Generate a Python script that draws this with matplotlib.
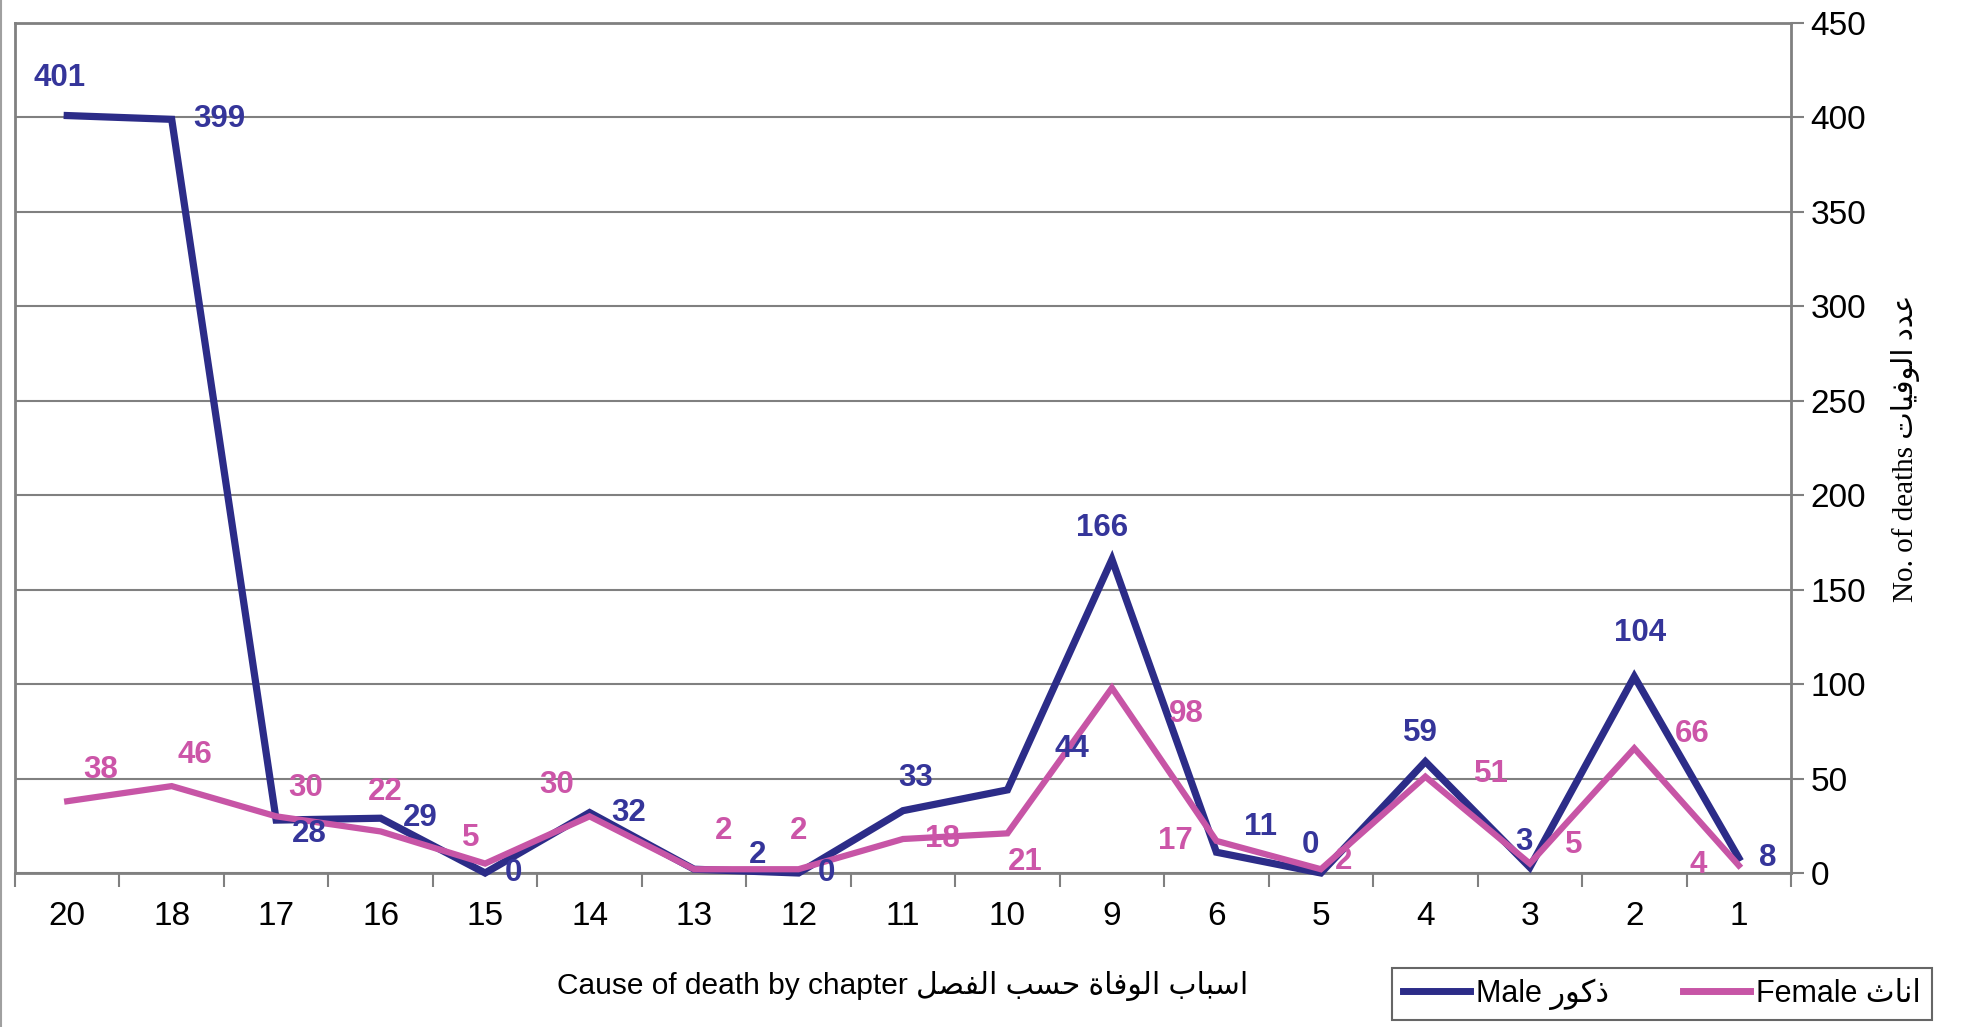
import matplotlib
matplotlib.use("Agg")
import matplotlib.pyplot as plt
from matplotlib.lines import Line2D

# formes contextuelles arabes : (isolée, finale, initiale, médiane)
FORMES = {
    'ا': ('\uFE8D', '\uFE8E', None, None),
    'ب': ('\uFE8F', '\uFE90', '\uFE91', '\uFE92'),
    'ة': ('\uFE93', '\uFE94', None, None),
    'ت': ('\uFE95', '\uFE96', '\uFE97', '\uFE98'),
    'ث': ('\uFE99', '\uFE9A', '\uFE9B', '\uFE9C'),
    'ح': ('\uFEA1', '\uFEA2', '\uFEA3', '\uFEA4'),
    'د': ('\uFEA9', '\uFEAA', None, None),
    'ذ': ('\uFEAB', '\uFEAC', None, None),
    'ر': ('\uFEAD', '\uFEAE', None, None),
    'س': ('\uFEB1', '\uFEB2', '\uFEB3', '\uFEB4'),
    'ص': ('\uFEB9', '\uFEBA', '\uFEBB', '\uFEBC'),
    'ع': ('\uFEC9', '\uFECA', '\uFECB', '\uFECC'),
    'ف': ('\uFED1', '\uFED2', '\uFED3', '\uFED4'),
    'ك': ('\uFED9', '\uFEDA', '\uFEDB', '\uFEDC'),
    'ل': ('\uFEDD', '\uFEDE', '\uFEDF', '\uFEE0'),
    'ن': ('\uFEE5', '\uFEE6', '\uFEE7', '\uFEE8'),
    'و': ('\uFEED', '\uFEEE', None, None),
    'ي': ('\uFEF1', '\uFEF2', '\uFEF3', '\uFEF4'),
}


def arabe(txt):
    """façonne le texte arabe et le remet dans l'ordre visuel"""
    out = []
    for i, c in enumerate(txt):
        if c not in FORMES:
            out.append(c)
            continue
        prev = txt[i-1] if i > 0 else ''
        nxt = txt[i+1] if i + 1 < len(txt) else ''
        lie_av = prev in FORMES and FORMES[prev][2] is not None
        lie_ap = FORMES[c][2] is not None and nxt in FORMES
        iso, fin, ini, med = FORMES[c]
        if lie_av and lie_ap:
            out.append(med)
        elif lie_av:
            out.append(fin)
        elif lie_ap:
            out.append(ini)
        else:
            out.append(iso)
    return ''.join(reversed(out))


chapitres = ['20', '18', '17', '16', '15', '14', '13', '12', '11', '10',
             '9', '6', '5', '4', '3', '2', '1']
hommes = [401, 399, 28, 29, 0, 32, 2, 0, 33, 44, 166, 11, 0, 59, 3, 104, 8]
femmes = [38, 46, 30, 22, 5, 30, 2, 2, 18, 21, 98, 17, 2, 51, 5, 66, 4]

# décalage des étiquettes (pixels)
decal_h = [(-8, 38), (48, 0), (33, -14), (40, 0), (28, 0), (39, 0), (64, 14),
           (28, 0), (13, 33), (64, 41), (-10, 31), (44, 25), (-10, 28),
           (-5, 29), (-6, 25), (6, 44), (29, 0)]
decal_f = [(33, 31), (23, 31), (29, 28), (5, 39), (-14, 26), (-33, 31),
           (30, 38), (0, 38), (39, 0), (18, -29), (74, -26), (-41, 0),
           (23, 8), (66, 3), (44, 19), (58, 14), (-41, 0)]

bleu = '#2C2C88'
rose = '#C755A6'
gris = '#808080'
police = ['Liberation Sans', 'DejaVu Sans']

fig = plt.figure(figsize=(19.64, 10.27), dpi=100)
ax = fig.add_axes([15/1964, 1 - 873/1027, (1791-15)/1964, (873-23)/1027])

x = list(range(len(chapitres)))
ax.plot(x, hommes, color=bleu, linewidth=5.2, solid_joinstyle='miter',
        clip_on=False, zorder=4, label='Male ' + arabe('ذكور'))
ax.plot(x, femmes, color=rose, linewidth=4.5, solid_joinstyle='miter',
        clip_on=False, zorder=5, label='Female ' + arabe('اناث'))

for i in x:
    ax.annotate(str(hommes[i]), (i, hommes[i]), xytext=decal_h[i],
                textcoords='offset pixels', ha='center', va='center',
                color='#35359A', fontsize=22.5, fontweight='bold',
                family=police, zorder=6)
    ax.annotate(str(femmes[i]), (i, femmes[i]), xytext=decal_f[i],
                textcoords='offset pixels', ha='center', va='center',
                color='#CC55A8', fontsize=22.5, fontweight='bold',
                family=police, zorder=6)

ax.set_xlim(-0.5, len(chapitres) - 0.5)
ax.set_ylim(0, 450)
ax.set_yticks(range(0, 451, 50))
ax.yaxis.tick_right()
ax.grid(axis='y', color=gris, linewidth=1.5)
ax.set_axisbelow(True)

ax.set_xticks(x)
ax.set_xticklabels(chapitres)
ax.set_xticks([i - 0.5 for i in range(len(chapitres) + 1)], minor=True)
ax.tick_params(axis='x', which='major', length=0, pad=20, labelsize=24)
ax.tick_params(axis='x', which='minor', length=10, width=1.5, color=gris)
ax.tick_params(axis='y', length=9, width=1.5, color=gris, pad=5,
               labelsize=24)
for lab in ax.get_xticklabels() + ax.get_yticklabels():
    lab.set_family(police)

for s in ax.spines.values():
    s.set_color(gris)
    s.set_linewidth(2)

ax.set_xlabel('Cause of death by chapter ' + arabe('اسباب الوفاة حسب الفصل'),
              fontsize=21.5, family=police)
ax.xaxis.set_label_coords(0.50, -0.115)
ax.yaxis.set_label_position('right')
ax.set_ylabel('No. of deaths ' + arabe('عدد الوفيات'), fontsize=21,
              family=['Liberation Serif', 'DejaVu Sans'], labelpad=18)

leg = fig.legend(loc='center', bbox_to_anchor=(1662/1964, 33/1027),
                 ncol=2, prop={'family': police, 'size': 22}, frameon=True,
                 fancybox=False, handlelength=2.2, handletextpad=0.2,
                 columnspacing=2.4, borderpad=0.35, borderaxespad=0)
leg.get_frame().set_edgecolor('#404040')
leg.get_frame().set_linewidth(1.5)
for ln in leg.get_lines():
    ln.set_linewidth(5)

fig.add_artist(Line2D([1/1964, 1/1964], [0, 1], color='#A0A0A0',
                      linewidth=1.5))

fig.savefig('out.png', dpi=100)
